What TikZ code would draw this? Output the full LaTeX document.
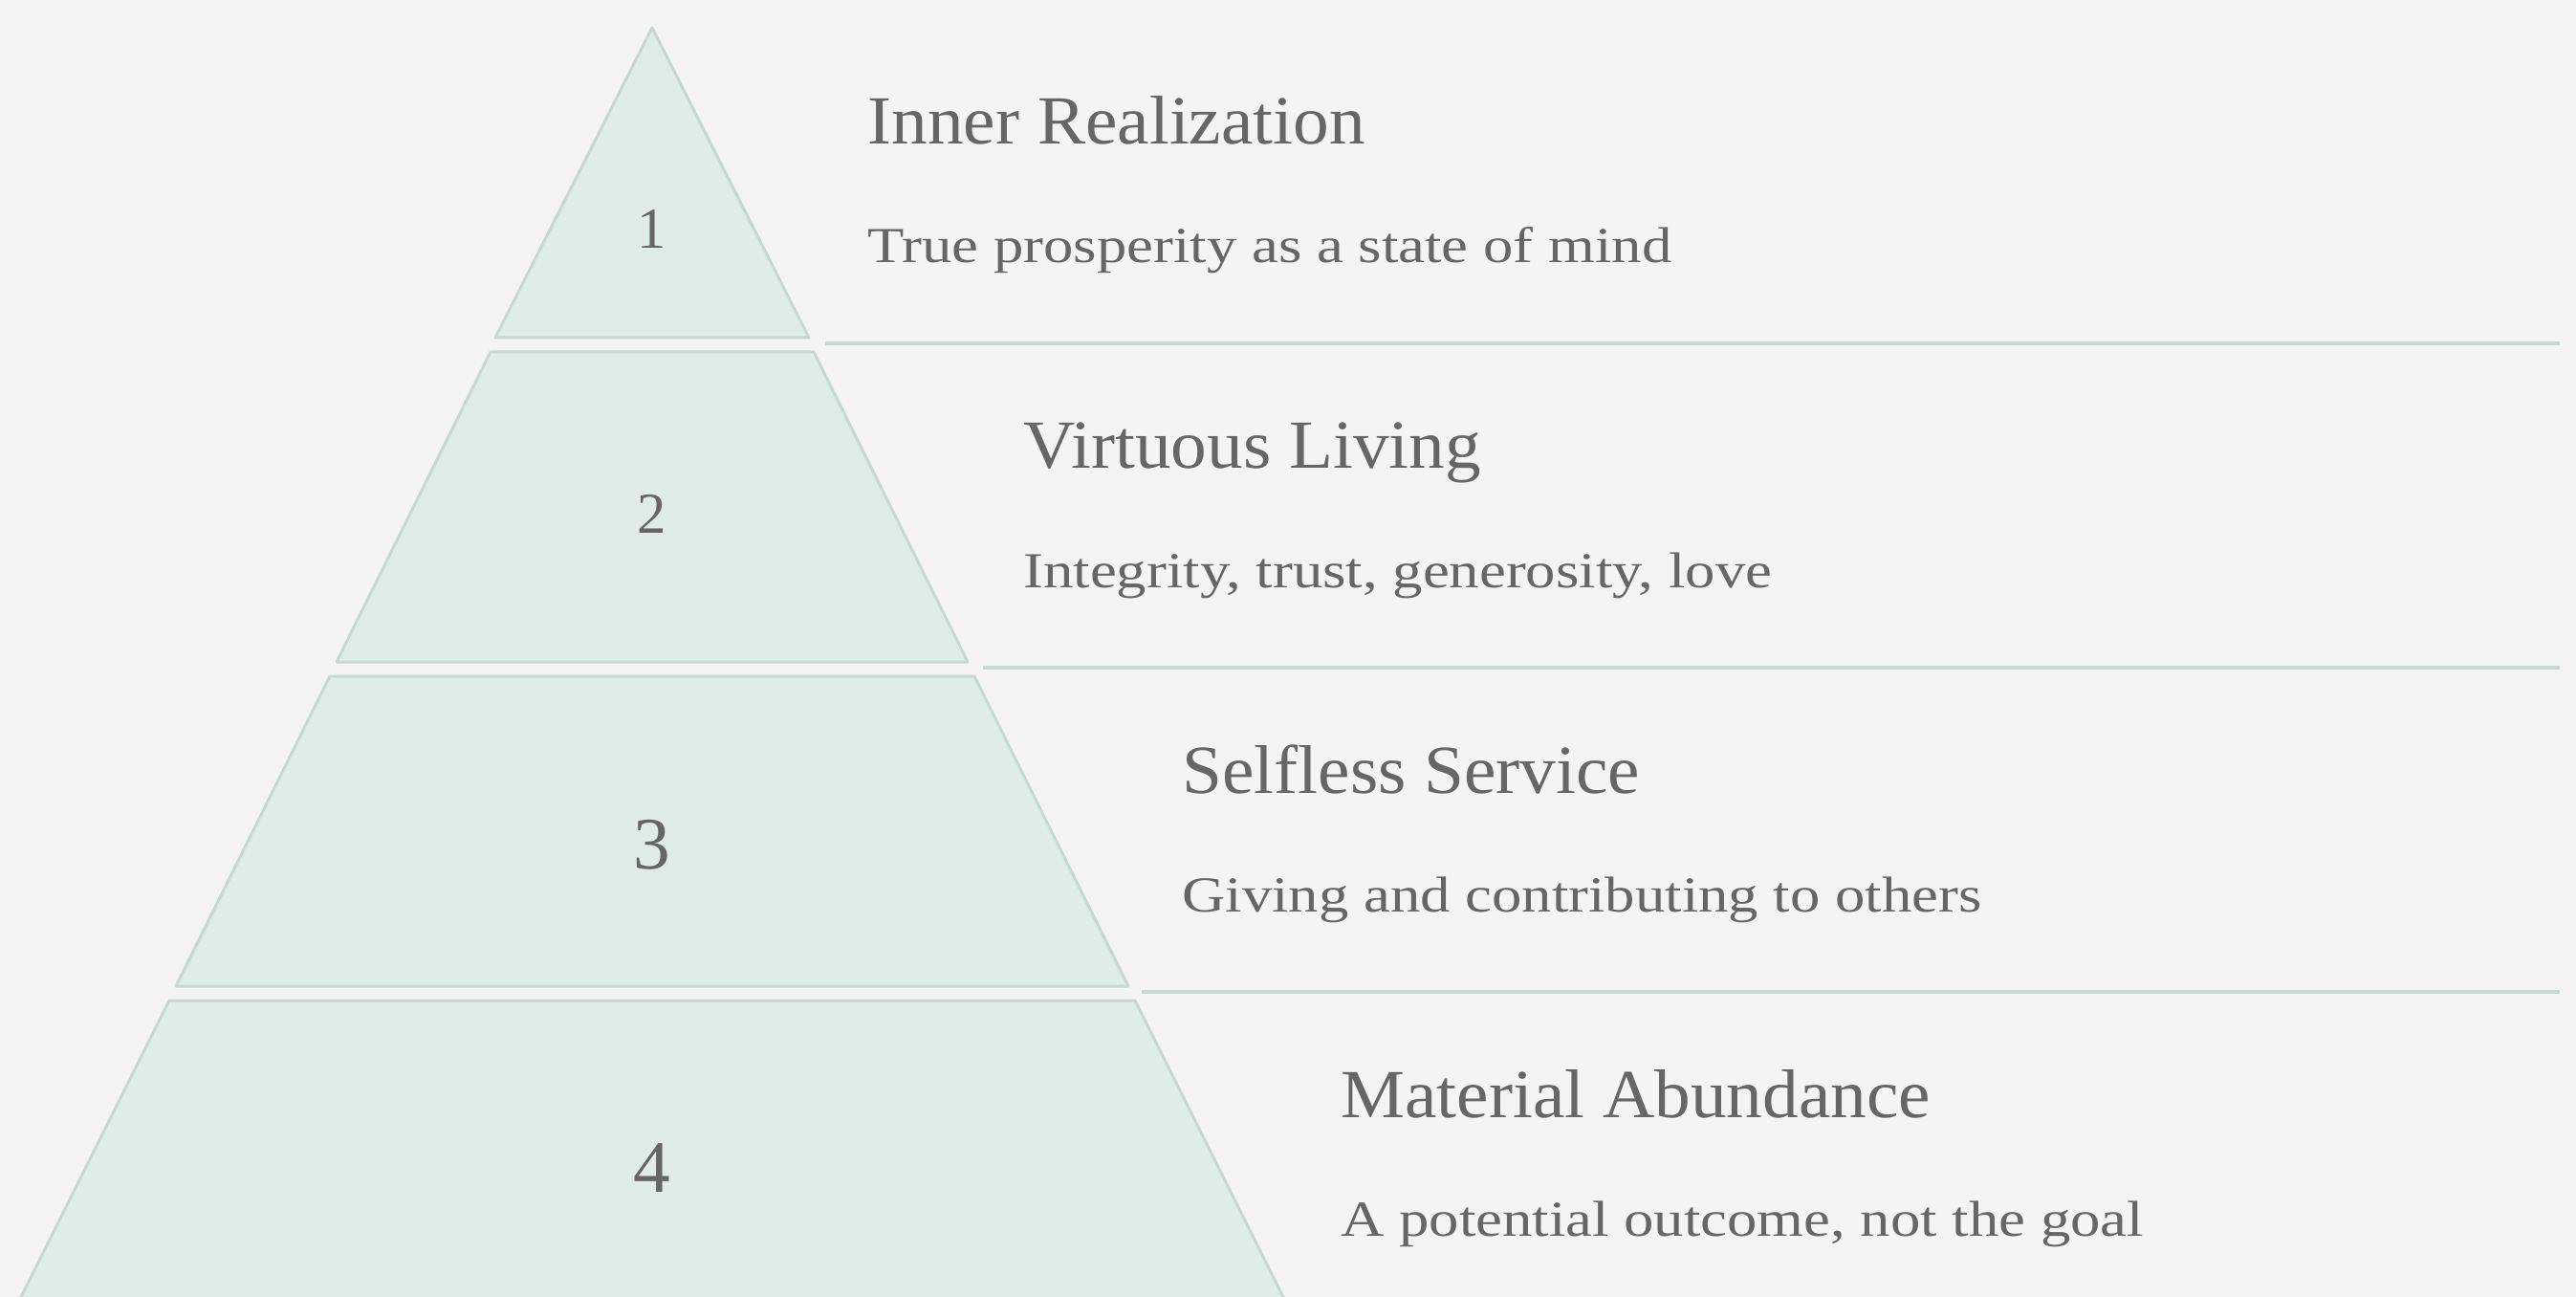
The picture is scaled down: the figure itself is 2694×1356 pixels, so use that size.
\documentclass[tikz,border=0pt]{standalone}
\usepackage{fontspec}
\setmainfont{Liberation Serif}
\newfontfamily\titlefont[FakeStretch=1.045]{Liberation Serif}
\newfontfamily\subfont[FakeStretch=1.19]{Liberation Serif}
\usepackage{xcolor}
\usetikzlibrary{positioning}
\definecolor{bgcol}{HTML}{F4F4F4}
\definecolor{tierfill}{HTML}{DFECE7}
\definecolor{tierline}{HTML}{C6D8D2}
\definecolor{textcol}{HTML}{666666}

\begin{document}
\begin{tikzpicture}[x=0.2mm,y=-0.2mm,
    tier/.style={fill=tierfill,draw=tierline,line width=0.6mm,line join=round},
    sepline/.style={draw=tierline,line width=0.7mm},
    numlbl/.style={text=textcol,inner sep=0pt},
    title/.style={text=textcol,anchor=base west,inner sep=0pt,font=\titlefont\fontsize{41}{49}\selectfont},
    subtitle/.style={text=textcol,anchor=base west,inner sep=0pt,font=\subfont\fontsize{30}{36}\selectfont}]
    \useasboundingbox (0,0) rectangle (2694,1356);
    \clip (0,0) rectangle (2694,1356);
    \fill[bgcol] (0,0) rectangle (2694,1356);

    \draw[tier] (682,29) -- (846,353) -- (518,353) -- cycle;
    \draw[tier] (513,368) -- (851,368) -- (1012,692) -- (352,692) -- cycle;
    \draw[tier] (345,707) -- (1019,707) -- (1180,1031) -- (184,1031) -- cycle;
    \draw[tier] (177,1046) -- (1187,1046) -- (1349,1370) -- (15,1370) -- cycle;

    \draw[sepline] (863,359) -- (2677,359);
    \draw[sepline] (1028,698) -- (2677,698);
    \draw[sepline] (1194,1037) -- (2677,1037);

    \node[numlbl,font=\fontsize{34.5}{40}\selectfont] (n1) at (682,239) {1};
    \node[numlbl,font=\fontsize{34.5}{40}\selectfont] (n2) at (682,537) {2};
    \node[numlbl,font=\fontsize{44}{50}\selectfont] (n3) at (682,883) {3};
    \node[numlbl,font=\fontsize{44}{50}\selectfont] (n4) at (682,1221) {4};

    \node[title] (t1) at (907,151) {Inner Realization};
    \node[subtitle] (s1) at (907,275) {True prosperity as a state of mind};
    \node[title] (t2) at (1070,490) {Virtuous Living};
    \node[subtitle] (s2) at (1070,614) {Integrity, trust, generosity, love};
    \node[title] (t3) at (1236,829) {Selfless Service};
    \node[subtitle] (s3) at (1236,953) {Giving and contributing to others};
    \node[title] (t4) at (1402,1168) {Material Abundance};
    \node[subtitle] (s4) at (1402,1292) {A potential outcome, not the goal};
\end{tikzpicture}
\end{document}
